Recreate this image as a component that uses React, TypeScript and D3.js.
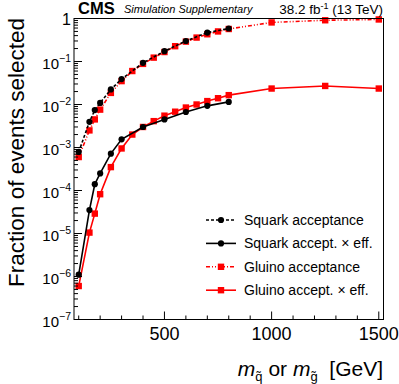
import React from 'react';
import * as d3 from 'd3';

// squark points
const sqMass = [100, 150, 175, 200, 250, 300, 400, 500, 600, 700, 800];
const sqAcc = [7.9e-4, 3.95e-3, 7.4e-3, 1.09e-2, 2.24e-2, 3.9e-2, 9.3e-2, 0.174, 0.3, 0.47, 0.585];
const sqEff = [1.1e-6, 3.5e-5, 1.4e-4, 2.5e-4, 7.2e-4, 1.55e-3, 3.0e-3, 4.5e-3, 6.7e-3, 9.3e-3, 1.15e-2];

// gluino points
const glMass = [100, 150, 175, 200, 250, 300, 350, 400, 450, 500, 550, 600, 650, 700, 750, 800, 1000, 1250, 1500];
const glAcc = [6.0e-4, 2.5e-3, 4.5e-3, 7.6e-3, 1.86e-2, 3.5e-2, 6.0e-2, 0.088, 0.123, 0.166, 0.227, 0.29, 0.36, 0.43, 0.5, 0.57, 0.81, 0.91, 0.95];
const glEff = [6.0e-7, 1.05e-5, 2.9e-5, 8.2e-5, 3.5e-4, 9.5e-4, 2.0e-3, 3.0e-3, 4.1e-3, 5.5e-3, 6.8e-3, 8.5e-3, 1.0e-2, 1.2e-2, 1.4e-2, 1.65e-2, 2.35e-2, 2.7e-2, 2.35e-2];

const xMajor = [500, 1000, 1500];
const xMinor = d3.range(100, 1501, 100);
const yExp = [-7, -6, -5, -4, -3, -2, -1, 0];

const legendItems = [
  { label: 'Squark acceptance', color: '#000', dash: '3,2', marker: 'circle' },
  { label: 'Squark accept. \u00d7 eff.', color: '#000', dash: null, marker: 'circle' },
  { label: 'Gluino acceptance', color: '#f00', dash: '4,2,1,2,1,2', marker: 'square' },
  { label: 'Gluino accept. \u00d7 eff.', color: '#f00', dash: null, marker: 'square' },
];

const font = '"Liberation Sans", Arial, Helvetica, sans-serif';

const App = () => {
  const left = 74, right = 383.5, top = 18.5, bottom = 319.5;
  const x = d3.scaleLinear().domain([78, 1522]).range([left, right]);
  const y = d3.scaleLog().domain([1e-7, 1]).range([bottom, top]);

  const line = d3.line<[number, number]>().x(d => x(d[0])).y(d => y(d[1]));
  const pts = (ms: number[], vs: number[]) => ms.map((m, i) => [m, vs[i]] as [number, number]);

  const yMinor: number[] = [];
  yExp.slice(0, -1).forEach(e => {
    for (let k = 2; k <= 9; k++) yMinor.push(k * Math.pow(10, e));
  });

  const marker = (kind: string, cx: number, cy: number, color: string, key: any) =>
    kind === 'circle'
      ? <circle key={key} cx={cx} cy={cy} r={3.1} fill={color} />
      : <rect key={key} x={cx - 3.2} y={cy - 3.2} width={6.4} height={6.4} fill={color} />;

  const series = [
    { ms: glMass, vs: glAcc, color: '#f00', dash: '4,2,1,2,1,2', m: 'square' },
    { ms: glMass, vs: glEff, color: '#f00', dash: null, m: 'square' },
    { ms: sqMass, vs: sqAcc, color: '#000', dash: '3,2', m: 'circle' },
    { ms: sqMass, vs: sqEff, color: '#000', dash: null, m: 'circle' },
  ];

  return (
    <svg width={399} height={384} style={{ position: 'absolute', left: 0, top: 0 }} fontFamily={font}>
      <rect width={399} height={384} fill="#fff" />

      {/* data */}
      {series.map((s, i) => (
        <g key={i}>
          <path d={line(pts(s.ms, s.vs)) || ''} fill="none" stroke={s.color} strokeWidth={1.6}
            strokeDasharray={s.dash || undefined} />
          {s.ms.map((m, j) => marker(s.m, x(m), y(s.vs[j]), s.color, j))}
        </g>
      ))}

      {/* frame */}
      <rect x={left} y={top} width={right - left} height={bottom - top} fill="none" stroke="#000" strokeWidth={1} />

      {/* x ticks */}
      {xMinor.map(v => (
        <line key={v} x1={x(v)} x2={x(v)} y1={bottom} y2={bottom - (xMajor.includes(v) ? 8 : 4)} stroke="#000" />
      ))}
      {xMajor.map(v => (
        <text key={v} x={x(v)} y={339.5} fontSize={18} textAnchor="middle">{v}</text>
      ))}

      {/* y ticks */}
      {yExp.map(e => (
        <line key={e} x1={left} x2={left + 8} y1={y(Math.pow(10, e))} y2={y(Math.pow(10, e))} stroke="#000" />
      ))}
      {yMinor.map((v, i) => (
        <line key={i} x1={left} x2={left + 4} y1={y(v)} y2={y(v)} stroke="#000" />
      ))}
      {yExp.map(e => e === 0 ? (
        <text key={e} x={71} y={y(1) + 6} fontSize={16} textAnchor="end">1</text>
      ) : (
        <text key={e} x={71} y={y(Math.pow(10, e)) + 7} fontSize={15} textAnchor="end">
          10<tspan fontSize={10.5} dy={-7}>{'\u2212' + (-e)}</tspan>
        </text>
      ))}

      {/* axis titles */}
      <text transform="translate(24,18) rotate(-90)" fontSize={22.5} textAnchor="end">Fraction of events selected</text>
      <text x={383} y={376} fontSize={21} textAnchor="end">
        <tspan fontStyle="italic">m</tspan>
        <tspan fontSize={13} dy={5}>{'q\u0303'}</tspan>
        <tspan dy={-5}>{' or '}</tspan>
        <tspan fontStyle="italic">m</tspan>
        <tspan fontSize={13} dy={5}>{'g\u0303'}</tspan>
        <tspan dy={-5}>{'\u00a0\u00a0[GeV]'}</tspan>
      </text>

      {/* header */}
      <text x={78} y={14} fontSize={16.5} fontWeight="bold">CMS</text>
      <text x={124} y={12.5} fontSize={11} fontStyle="italic">Simulation Supplementary</text>
      <text x={383} y={14} fontSize={13.5} textAnchor="end">
        38.2 fb<tspan fontSize={9} dy={-5}>{'-1'}</tspan><tspan dy={5}> (13 TeV)</tspan>
      </text>

      {/* legend */}
      {legendItems.map((it, i) => {
        const ly = 220 + i * 23.4;
        return (
          <g key={i}>
            <line x1={206} x2={236} y1={ly} y2={ly} stroke={it.color} strokeWidth={1.6}
              strokeDasharray={it.dash || undefined} />
            {marker(it.marker, 221, ly, it.color, 'm')}
            <text x={244} y={ly + 5} fontSize={14}>{it.label}</text>
          </g>
        );
      })}
    </svg>
  );
};

export default App;
